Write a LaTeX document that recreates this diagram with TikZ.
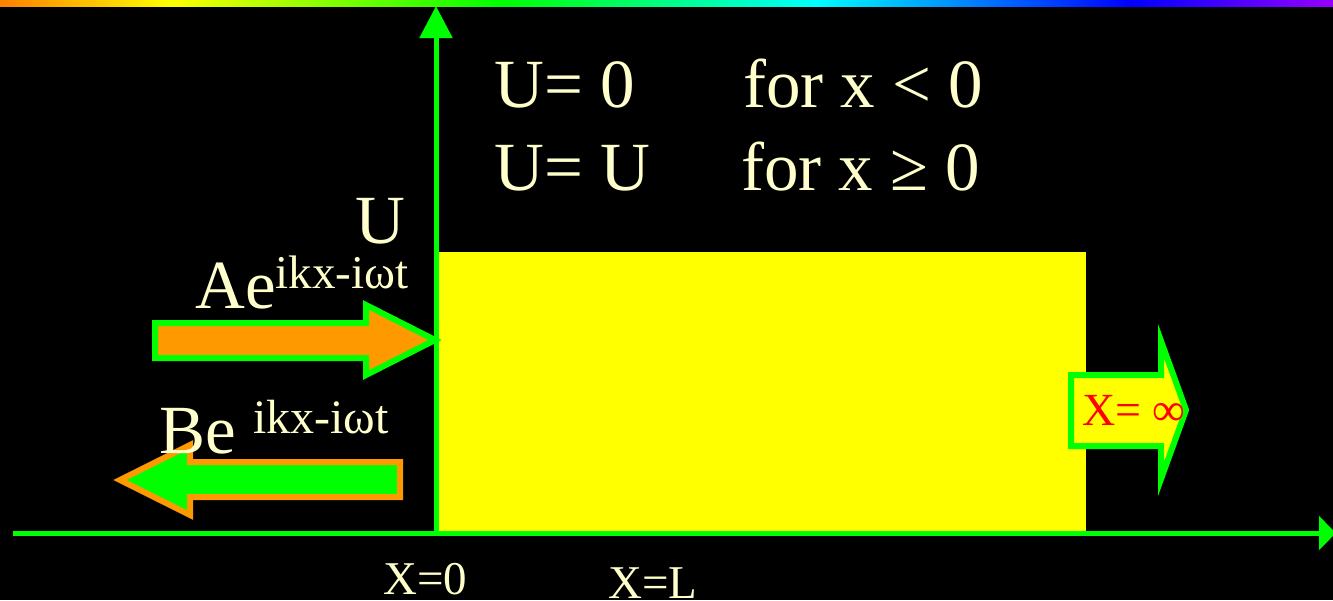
\documentclass[tikz,border=0pt]{standalone}
\usepackage{fontspec}
\setmainfont{Liberation Serif}
\usetikzlibrary{arrows.meta}
\definecolor{cream}{RGB}{255,255,204}
\definecolor{lgreen}{RGB}{0,255,0}
\definecolor{lorange}{RGB}{255,153,0}
\definecolor{lyellow}{RGB}{255,255,0}
\definecolor{rbor}{RGB}{255,128,0}
\definecolor{rbye}{RGB}{255,255,0}
\definecolor{rbgr}{RGB}{0,255,0}
\definecolor{rbcy}{RGB}{0,255,255}
\definecolor{rbbl}{RGB}{0,0,255}
\definecolor{rbvi}{RGB}{150,0,255}
\tikzset{
  bigtxt/.style={text=cream, inner sep=0pt, anchor=base west, font=\fontsize{69}{80}\selectfont},
  smalltxt/.style={text=cream, inner sep=0pt, anchor=base west, font=\fontsize{47}{56}\selectfont},
  axis/.style={draw=lgreen, line width=5pt},
  blockarrow/.style={line width=6pt, line join=miter, miter limit=10}
}
\begin{document}
\begin{tikzpicture}[x=1pt,y=-1pt]
\fill[black] (0,0) rectangle (1333,600);
\useasboundingbox (0,0) rectangle (1333,600);
% yellow barrier
\fill[lyellow] (436,252) rectangle (1086,533);
% axes
\coordinate (orig) at (436,533);
\coordinate (ytop) at (436,6);
\coordinate (xleft) at (13,533);
\coordinate (xright) at (1336,533);
\draw[axis, -{Triangle[length=32pt,width=32pt]}] (orig) -- (ytop);
\draw[axis, -{Triangle[length=17pt,width=33pt]}] (xleft) -- (xright);
% incident arrow A
\draw[blockarrow, draw=lgreen, fill=lorange] (155,323) -- (366,323) -- (366,305) -- (435,340) -- (366,375) -- (366,358) -- (155,358) -- cycle;
% reflected arrow B
\draw[blockarrow, draw=lorange, fill=lgreen] (400,462) -- (190,462) -- (190,445) -- (120,480) -- (190,515) -- (190,497) -- (400,497) -- cycle;
% transmitted arrow
\draw[blockarrow, draw=lgreen, fill=lyellow] (1071,375) -- (1161,375) -- (1161,341) -- (1186,410) -- (1161,479) -- (1161,446) -- (1071,446) -- cycle;
\node[inner sep=0pt, anchor=base west, text=red, font=\fontsize{46}{55}\selectfont] (xinf) at (1082,425) {X= ∞};
% rainbow bar
\shade[left color=rbor, right color=rbye] (0,0) rectangle (170,6);
\shade[left color=rbye, right color=rbgr] (170,0) rectangle (500,6);
\shade[left color=rbgr, right color=rbcy] (500,0) rectangle (816,6);
\shade[left color=rbcy, right color=rbbl] (816,0) rectangle (1130,6);
\shade[left color=rbbl, right color=rbvi] (1130,0) rectangle (1333,6);
% texts
\node[bigtxt] (u1) at (494,107) {U= 0};
\node[bigtxt] (f1) at (743,107) {for x < 0};
\node[bigtxt] (u2) at (494,190) {U= U};
\node[bigtxt] (f2) at (741,190) {for x ≥ 0};
\node[bigtxt] (ulab) at (355,243) {U};
\node[bigtxt] (atxt) at (195,308) {Ae\raisebox{20pt}{\fontsize{47}{55}\selectfont ikx-iωt}};
\node[bigtxt] (btxt) at (159,453) {Be \raisebox{20pt}{\fontsize{48}{55}\selectfont ikx-iωt}};
\node[smalltxt] (x0) at (383,594) {X=0};
\node[smalltxt] (xl) at (608,598) {X=L};
\end{tikzpicture}
\end{document}
